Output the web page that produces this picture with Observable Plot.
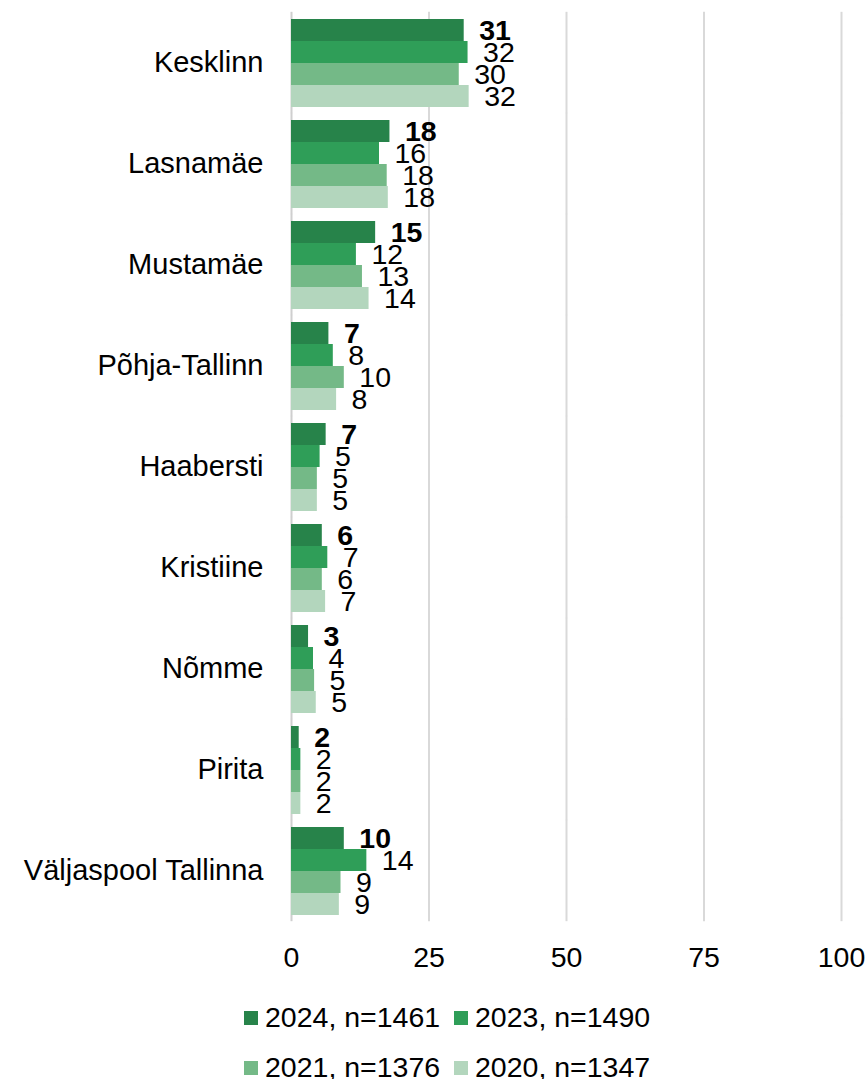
<!DOCTYPE html>
<html>
<head>
<meta charset="utf-8">
<script src="https://cdn.jsdelivr.net/npm/d3@7"></script>
<script src="https://cdn.jsdelivr.net/npm/@observablehq/plot@0.6"></script>
<style>
  html, body { margin: 0; padding: 0; background: #fff; }
  body { font-family: "Liberation Sans", Arial, sans-serif; width: 868px; }
  #legend {
    display: grid;
    grid-template-columns: 210px 210px;
    row-gap: 26px;
    margin-left: 244px;
    margin-top: 9px;
    font-size: 28.5px;
    line-height: 24px;
    color: #000;
  }
  .item { display: flex; align-items: center; white-space: nowrap; height: 24px; }
  .sw { width: 14px; height: 14px; margin-right: 7px; flex: none; position: relative; top: 1px; }
</style>
</head>
<body>
<div id="chart"></div>
<div id="legend"></div>
<script>
// ---- data ----
const districts = ["Kesklinn", "Lasnamäe", "Mustamäe", "Põhja-Tallinn", "Haabersti", "Kristiine", "Nõmme", "Pirita", "Väljaspool Tallinna"];
const seriesNames = ["2024, n=1461", "2023, n=1490", "2021, n=1376", "2020, n=1347"];
const v2024 = [31.4, 17.9, 15.3, 6.8, 6.3, 5.6, 3.1, 1.4, 9.6];
const v2023 = [32.1, 16.0, 11.8, 7.6, 5.2, 6.6, 4.0, 1.7, 13.7];
const v2021 = [30.5, 17.4, 12.9, 9.6, 4.7, 5.6, 4.2, 1.7, 9.0];
const v2020 = [32.3, 17.6, 14.1, 8.2, 4.7, 6.2, 4.5, 1.7, 8.7];
const l2024 = [31, 18, 15, 7, 7, 6, 3, 2, 10];
const l2023 = [32, 16, 12, 8, 5, 7, 4, 2, 14];
const l2021 = [30, 18, 13, 10, 5, 6, 5, 2, 9];
const l2020 = [32, 18, 14, 8, 5, 7, 5, 2, 9];
const xTicks = [0, 25, 50, 75, 100];
const colors = ["#27834a", "#2f9e58", "#74b987", "#b3d6bd"];

const valueSets = [v2024, v2023, v2021, v2020];
const labelSets = [l2024, l2023, l2021, l2020];
const rows = [];
districts.forEach((d, i) => {
  seriesNames.forEach((s, j) => {
    rows.push({district: d, series: s, value: valueSets[j][i], label: labelSets[j][i], first: j === 0});
  });
});

const ext = -6.2; // extend rules across the gaps between facets
const chart = Plot.plot({
  width: 868,
  height: 996,
  marginTop: 11,
  marginBottom: 74,
  marginLeft: 291,
  marginRight: 27,
  style: {fontFamily: "'Liberation Sans', Arial, sans-serif", fontSize: "28px", color: "#000", background: "#fff"},
  x: {domain: [0, 100]},
  y: {domain: seriesNames, padding: 0, axis: null},
  fy: {domain: districts, paddingInner: 0.118, paddingOuter: 0.059},
  color: {domain: seriesNames, range: colors},
  marks: [
    Plot.ruleX(xTicks.slice(1), {x: d => d, stroke: "#d9d9d9", strokeWidth: 2, insetTop: ext, insetBottom: ext}),
    Plot.ruleX([xTicks[0]], {x: d => d, stroke: "#cfcfcf", strokeWidth: 2, insetTop: ext, insetBottom: ext}),
    Plot.barX(rows, {x: "value", y: "series", fy: "district", fill: "series"}),
    Plot.text(rows.filter(r => r.first), {x: "value", y: "series", fy: "district", text: "label", textAnchor: "start", dx: 15, fontSize: 28.5, fontWeight: "bold", fill: "#000"}),
    Plot.text(rows.filter(r => !r.first), {x: "value", y: "series", fy: "district", text: "label", textAnchor: "start", dx: 15, fontSize: 28.5, fill: "#000"}),
    Plot.axisX({ticks: xTicks, tickSize: 0, tickPadding: 31, fontSize: 28.5, label: null, tickFormat: d => String(d)}),
    Plot.axisFy({anchor: "left", tickSize: 0, tickPadding: 28, fontSize: 29, label: null})
  ]
});
document.getElementById("chart").appendChild(chart);

const legend = document.getElementById("legend");
seriesNames.forEach((s, j) => {
  const it = document.createElement("div");
  it.className = "item";
  const sw = document.createElement("span");
  sw.className = "sw";
  sw.style.background = colors[j];
  const t = document.createElement("span");
  t.textContent = s;
  it.appendChild(sw);
  it.appendChild(t);
  legend.appendChild(it);
});
</script>
</body>
</html>
